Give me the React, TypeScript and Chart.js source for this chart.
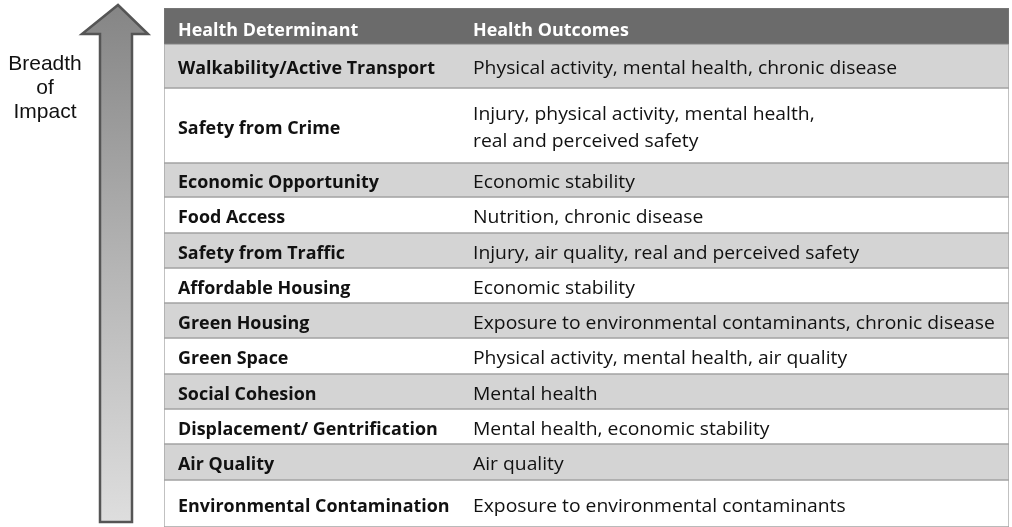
import React, { useEffect, useRef } from "react";
import { Chart, registerables } from "chart.js";

Chart.register(...registerables);

// ---- content ----
const headers = ["Health Determinant", "Health Outcomes"];
const determinants = [
  "Walkability/Active Transport",
  "Safety from Crime",
  "Economic Opportunity",
  "Food Access",
  "Safety from Traffic",
  "Affordable Housing",
  "Green Housing",
  "Green Space",
  "Social Cohesion",
  "Displacement/ Gentrification",
  "Air Quality",
  "Environmental Contamination",
];
const outcomes = [
  ["Physical activity, mental health, chronic disease"],
  ["Injury, physical activity, mental health,", "real and perceived safety"],
  ["Economic stability"],
  ["Nutrition, chronic disease"],
  ["Injury, air quality, real and perceived safety"],
  ["Economic stability"],
  ["Exposure to environmental contaminants, chronic disease"],
  ["Physical activity, mental health, air quality"],
  ["Mental health"],
  ["Mental health, economic stability"],
  ["Air quality"],
  ["Exposure to environmental contaminants"],
];
const arrowLabel = ["Breadth", "of", "Impact"];

// ---- layout (row heights in px units: header + each row) ----
const ROW_HEIGHTS = [36, 44, 75, 34, 36, 35, 35, 35, 36, 35, 35, 36, 47];
const FONT = '"Open Sans", "Noto Sans", sans-serif';
const FONT_SIZE = 17.5;
// target widths used to match the original typeface's proportions
const REG_TARGET = 424; // width of outcomes[0][0]
const BOLD_TARGET = 257; // width of determinants[0]

export default function App() {
  const ref = useRef<HTMLCanvasElement | null>(null);

  useEffect(() => {
    document.body.style.margin = "0";
    const canvas = ref.current;
    if (!canvas) return;

    const bounds: number[] = [0];
    ROW_HEIGHTS.forEach((h, i) => bounds.push(bounds[i] + h));
    const total = bounds[bounds.length - 1];

    const datasets = ROW_HEIGHTS.map((_, i) => ({
      label: i === 0 ? "header" : determinants[i - 1],
      data: [[bounds[i], bounds[i + 1]]] as any,
      backgroundColor: i === 0 ? "#6b6b6b" : i % 2 === 1 ? "#d4d4d4" : "#ffffff",
      borderColor: i === 0 ? "#7a7a7a" : "#a3a3a3",
      borderWidth: 1,
      borderSkipped: false as any,
      grouped: false,
      barPercentage: 1,
      categoryPercentage: 1,
    }));

    const arrowPlugin = {
      id: "arrow",
      beforeDraw(chart: any) {
        const ctx = chart.ctx as CanvasRenderingContext2D;
        ctx.save();
        const tipX = 118, tipY = 5, headY = 34, headL = 82, headR = 148;
        const shL = 100, shR = 132, bottom = 522;
        const grad = ctx.createLinearGradient(0, tipY, 0, bottom);
        grad.addColorStop(0, "#858585");
        grad.addColorStop(0.5, "#b4b4b4");
        grad.addColorStop(1, "#dedede");
        ctx.beginPath();
        ctx.moveTo(tipX, tipY);
        ctx.lineTo(headR, headY);
        ctx.lineTo(shR, headY);
        ctx.lineTo(shR, bottom);
        ctx.lineTo(shL, bottom);
        ctx.lineTo(shL, headY);
        ctx.lineTo(headL, headY);
        ctx.closePath();
        ctx.fillStyle = grad;
        ctx.fill();
        ctx.lineWidth = 2.5;
        ctx.strokeStyle = "#555555";
        ctx.lineJoin = "miter";
        ctx.stroke();
        ctx.fillStyle = "#111111";
        ctx.font = '21px "Liberation Sans", Arial, sans-serif';
        ctx.textAlign = "center";
        ctx.textBaseline = "middle";
        arrowLabel.forEach((t, k) => ctx.fillText(t, 45, 64 + k * 24));
        ctx.restore();
      },
    };

    const textPlugin = {
      id: "cellText",
      afterDatasetsDraw(chart: any) {
        const ctx = chart.ctx as CanvasRenderingContext2D;
        const left = chart.chartArea.left;
        const x1 = left + 14;
        const x2 = left + 309;
        ctx.save();
        ctx.textAlign = "left";
        ctx.textBaseline = "middle";
        const boldFont = `bold ${FONT_SIZE}px ${FONT}`;
        const regFont = `${FONT_SIZE}px ${FONT}`;
        ctx.font = boldFont;
        const sb = BOLD_TARGET / ctx.measureText(determinants[0]).width;
        ctx.font = regFont;
        const sr = REG_TARGET / ctx.measureText(outcomes[0][0]).width;
        const draw = (t: string, x: number, y: number, s: number) => {
          ctx.save();
          ctx.translate(x, y);
          ctx.scale(s, 1);
          ctx.fillText(t, 0, 0);
          ctx.restore();
        };
        chart.data.datasets.forEach((_: any, i: number) => {
          const el = chart.getDatasetMeta(i).data[0] as any;
          const top = Math.min(el.y, el.base);
          const bot = Math.max(el.y, el.base);
          const cy = (top + bot) / 2 + 3.5;
          if (i === 0) {
            ctx.fillStyle = "#ffffff";
            ctx.font = boldFont;
            draw(headers[0], x1, cy + 1.5, sb);
            draw(headers[1], x2, cy + 1.5, sb);
            return;
          }
          ctx.fillStyle = "#111111";
          ctx.font = boldFont;
          draw(determinants[i - 1], x1, cy, sb);
          ctx.font = regFont;
          const lines = outcomes[i - 1];
          const lh = 27;
          lines.forEach((ln, k) => {
            draw(ln, x2, cy + (k - (lines.length - 1) / 2) * lh, sr);
          });
        });
        ctx.restore();
      },
    };

    const chart = new Chart(canvas, {
      type: "bar",
      data: { labels: ["table"], datasets },
      options: {
        responsive: false,
        animation: false,
        layout: { padding: { left: 164, right: 3, top: 8, bottom: 0 } },
        plugins: { legend: { display: false }, tooltip: { enabled: false } },
        scales: {
          x: { type: "category", display: false },
          y: { type: "linear", reverse: true, min: 0, max: total, display: false },
        },
      },
      plugins: [arrowPlugin, textPlugin],
    });
    return () => chart.destroy();
  }, []);

  return (
    <div style={{ width: 1012, height: 527, background: "#ffffff" }}>
      <canvas ref={ref} width={1012} height={527} style={{ display: "block" }} />
    </div>
  );
}
